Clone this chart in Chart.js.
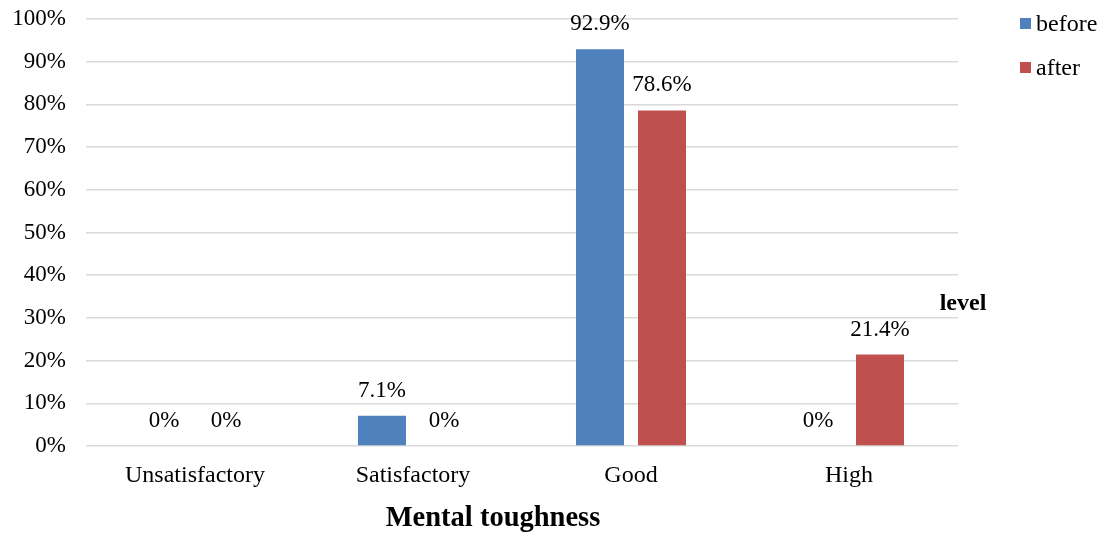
<!DOCTYPE html>
<html>
<head>
<meta charset="utf-8">
<script src="https://cdn.jsdelivr.net/npm/chart.js@4.4.1/dist/chart.umd.min.js"></script>
<style>
  html, body { margin: 0; padding: 0; background: #ffffff; }
  #wrap { width: 1104px; height: 536px; position: relative; }
</style>
</head>
<body>
<div id="wrap"><canvas id="chart" width="1104" height="536"></canvas></div>
<script>
// Mental toughness levels, share of participants before and after
const categories = ['Unsatisfactory', 'Satisfactory', 'Good', 'High'];
const beforeValues = [0, 7.1, 92.9, 0];
const afterValues = [0, 0, 78.6, 21.4];
const seriesNames = ['before', 'after'];
const yTicks = [0, 10, 20, 30, 40, 50, 60, 70, 80, 90, 100];

const FONT = '"Liberation Serif", "Times New Roman", serif';
const BLUE = '#4f81bd';
const RED = '#c0504d';

function pct(v) {
  return (v === 0 ? '0' : v.toFixed(1)) + '%';
}

// Value labels above each bar, legend at upper right, axis captions
const annotate = {
  id: 'annotate',
  afterDatasetsDraw(chart) {
    const ctx = chart.ctx;
    ctx.save();
    ctx.fillStyle = '#000';
    ctx.font = '23px ' + FONT;
    ctx.textAlign = 'center';
    ctx.textBaseline = 'middle';
    chart.data.datasets.forEach((ds, i) => {
      chart.getDatasetMeta(i).data.forEach((bar, j) => {
        ctx.fillText(pct(ds.data[j]), bar.x, bar.y - 25);
      });
    });

    // legend
    ctx.font = '24px ' + FONT;
    ctx.textAlign = 'left';
    chart.data.datasets.forEach((ds, i) => {
      const cy = 24 + i * 44;
      ctx.fillStyle = ds.backgroundColor;
      ctx.fillRect(1020, cy - 6, 11, 11);
      ctx.fillStyle = '#000';
      ctx.fillText(ds.label, 1036, cy + 1);
    });

    // axis captions
    ctx.textAlign = 'center';
    ctx.font = 'bold 24px ' + FONT;
    ctx.fillText('level', 963, 304);
    ctx.font = 'bold 28.5px ' + FONT;
    ctx.fillText('Mental toughness', 493, 519);
    ctx.restore();
  }
};

new Chart(document.getElementById('chart'), {
  type: 'bar',
  data: {
    labels: categories,
    datasets: [
      { label: seriesNames[0], data: beforeValues, backgroundColor: BLUE },
      { label: seriesNames[1], data: afterValues, backgroundColor: RED }
    ]
  },
  options: {
    responsive: false,
    animation: false,
    events: [],
    layout: { padding: { left: 0, right: 146, top: 19, bottom: 0 } },
    categoryPercentage: 0.569,
    barPercentage: 0.774,
    plugins: {
      legend: { display: false },
      tooltip: { enabled: false }
    },
    scales: {
      x: {
        grid: { display: false, drawTicks: false },
        border: { display: false },
        ticks: { color: '#000', font: { family: FONT, size: 24 }, padding: 15 },
        afterFit(scale) {
          scale.height = 90;
          scale.paddingLeft = 0;
          scale.paddingRight = 0;
        }
      },
      y: {
        min: 0,
        max: 100,
        afterBuildTicks(scale) { scale.ticks = yTicks.map(v => ({ value: v })); },
        grid: { color: '#d9d9d9', lineWidth: 1.5, drawTicks: false },
        border: { display: false },
        ticks: {
          color: '#000',
          font: { family: FONT, size: 23 },
          padding: 20,
          callback: v => v + '%'
        },
        afterFit(scale) {
          scale.width = 86;
          scale.paddingTop = 0;
          scale.paddingBottom = 0;
        }
      }
    }
  },
  plugins: [annotate]
});
</script>
</body>
</html>
